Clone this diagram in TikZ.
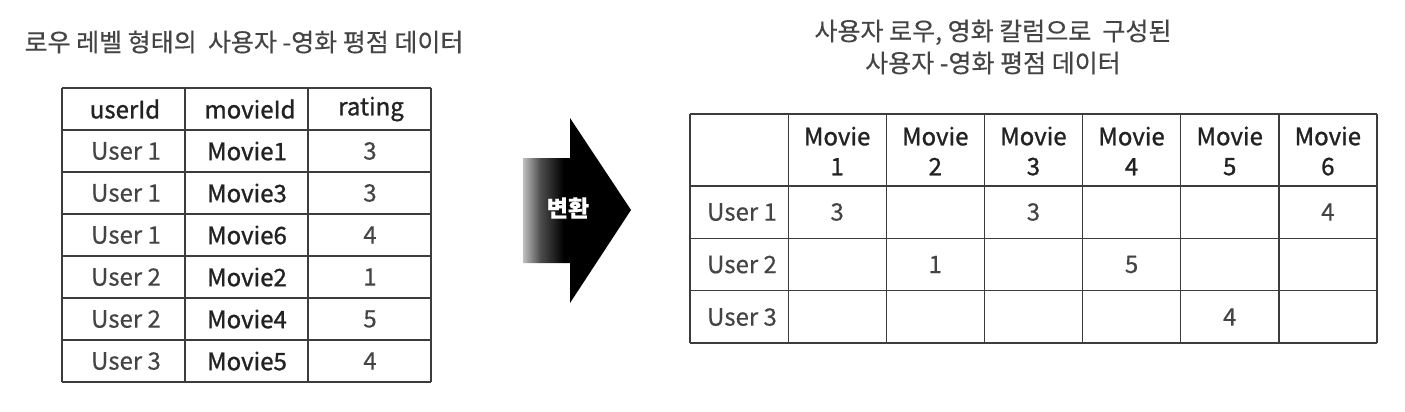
\documentclass[tikz,border=0pt]{standalone}
\usepackage{fontspec}
\setmainfont{Noto Sans CJK KR}[FakeBold=0.4]
\newfontfamily\headfont{Noto Sans CJK KR}[FakeBold=1.1]
\usetikzlibrary{positioning}

\definecolor{rulegray}{HTML}{3C3C3C}
\definecolor{textgray}{HTML}{444444}
\definecolor{headgray}{HTML}{222222}

% fast fade from light grey to black along the arrow
\pgfdeclarehorizontalshading{arrowshade}{100bp}{color(0bp)=(black!25); color(25bp)=(black!25); color(33bp)=(black!70); color(44bp)=(black); color(100bp)=(black)}

\tikzset{
  tablerule/.style={draw=rulegray, line width=1.3pt},
  cell/.style={text=textgray, font=\fontsize{24}{30}\selectfont, inner sep=0pt},
  headcell/.style={cell, text=headgray, font=\fontsize{24}{30}\selectfont\headfont, align=center},
  caption/.style={text=textgray, font=\fontsize{25}{32}\selectfont, align=center, inner sep=0pt}
}

\begin{document}
\begin{tikzpicture}[x=1pt,y=-1pt]
  \useasboundingbox[fill=white] (0,0) rectangle (1405,412);

  % Titles
  \node[caption] (ltitle) at (244,42) {로우 레벨 형태의 \ 사용자 -영화 평점 데이터};
  \node[caption] (rtitle) at (993,47) {사용자 로우, 영화 칼럼으로 \ 구성된\\사용자 -영화 평점 데이터};

  % Left table: one row per rating
  \foreach \x in {62,185,308,431} {
    \draw[tablerule] (\x,88) -- (\x,382);
  }
  \foreach \y in {88,130,...,382} {
    \draw[tablerule] (62,\y) -- (431,\y);
  }
  \node[headcell] (huser) at (125,109) {userId};
  \node[headcell] (hmovie) at (250,109) {movieId};
  \node[headcell] (hrating) at (371,109) {rating};
  \foreach \u/\m/\r [count=\i] in {User 1/Movie1/3, User 1/Movie3/3, User 1/Movie6/4,
                                  User 2/Movie2/1, User 2/Movie4/5, User 3/Movie5/4} {
    \node[cell] (u\i) at (126,{109+42*\i}) {\u};
    \node[headcell] (m\i) at (247,{109+42*\i}) {\m};
    \node[cell] (r\i) at (370,{109+42*\i}) {\r};
  }

  % Arrow
  \shade[shading=arrowshade] (523,158) -- (570,158) -- (570,118) -- (631,210)
        -- (570,303) -- (570,263) -- (523,263) -- cycle;
  \node[text=white, font=\fontsize{23}{23}\selectfont\bfseries, inner sep=0pt] (conv) at (568,208) {변환};

  % Right table: users x movies
  \foreach \i in {0,...,7} {
    \draw[tablerule] ({690+98.14*\i},114) -- ({690+98.14*\i},343);
  }
  \foreach \y in {114,186,238.3,290.6,343} {
    \draw[tablerule] (690,\y) -- (1377,\y);
  }
  \foreach \j in {1,...,6} {
    \node[headcell] (mv\j) at ({739+98.14*\j},151) {Movie\\\j};
  }
  \foreach \k/\y in {1/212,2/264.5,3/317} {
    \node[cell] (us\k) at (742,\y) {User \k};
  }
  \foreach \k/\j/\v/\y in {1/1/3/212, 1/3/3/212, 1/6/4/212,
                           2/2/1/264.5, 2/4/5/264.5, 3/5/4/317} {
    \node[cell] (v\k\j) at ({739+98.14*\j},\y) {\v};
  }
\end{tikzpicture}
\end{document}
